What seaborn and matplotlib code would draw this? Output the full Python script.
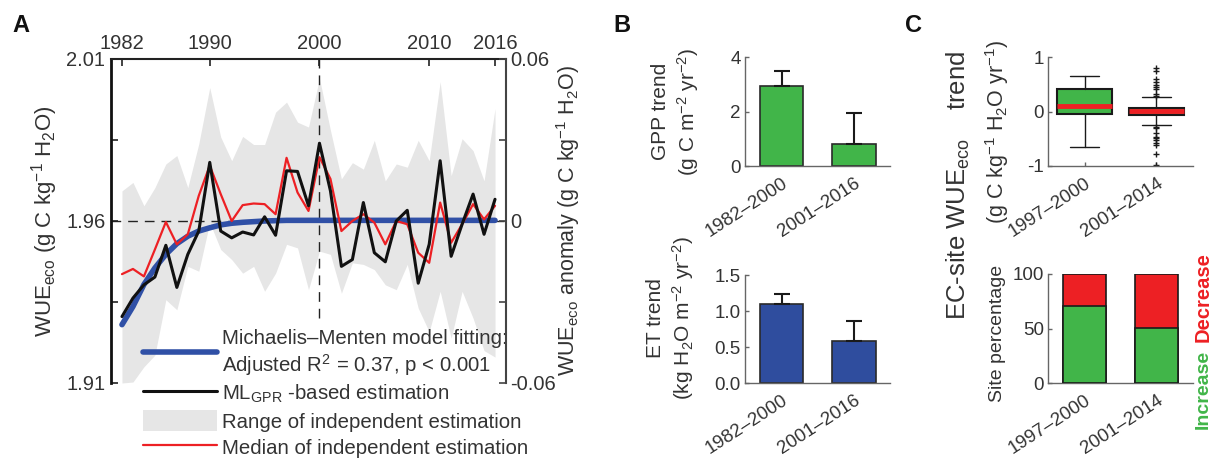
import numpy as np
import seaborn as sns
import matplotlib.pyplot as plt
from matplotlib.lines import Line2D
from matplotlib.patches import Patch

# ---- data ----
years = list(range(1982, 2017))

# ML_GPR-based estimation (black)
wue_ml = [1.9305, 1.9362, 1.9403, 1.9427, 1.9525, 1.9395, 1.9497, 1.9569, 1.9781, 1.9569,
          1.9548, 1.9566, 1.9557, 1.9613, 1.9556, 1.9755, 1.9753, 1.9647, 1.9840, 1.9693,
          1.9460, 1.9481, 1.9657, 1.9502, 1.9474, 1.9600, 1.9633, 1.9408, 1.9528, 1.9786,
          1.9491, 1.9590, 1.9683, 1.9559, 1.9667]
# median of independent estimation (red)
wue_median = [1.9436, 1.9452, 1.9429, 1.9512, 1.9597, 1.9528, 1.9559, 1.9678, 1.9771, 1.9683,
              1.9600, 1.9649, 1.9654, 1.9652, 1.9621, 1.9795, 1.9688, 1.9631, 1.9797, 1.9730,
              1.9569, 1.9600, 1.9621, 1.9595, 1.9528, 1.9600, 1.9590, 1.9502, 1.9471, 1.9657,
              1.9533, 1.9590, 1.9652, 1.9605, 1.9647]
# range of independent estimation (grey band)
wue_upper = [1.9693, 1.9719, 1.9647, 1.9703, 1.9776, 1.9802, 1.9703, 1.9838, 2.0012, 1.9859,
             1.9786, 1.9861, 1.9836, 1.9836, 1.9936, 1.9967, 1.9905, 1.9890, 2.0040, 1.9880,
             1.9730, 1.9780, 1.9760, 1.9849, 1.9724, 1.9776, 1.9766, 1.9849, 1.9786, 2.0030,
             1.9740, 1.9854, 1.9817, 1.9724, 1.9947]
wue_lower = [1.9100, 1.9103, 1.9150, 1.9186, 1.9357, 1.9326, 1.9460, 1.9445, 1.9595, 1.9512,
             1.9481, 1.9439, 1.9460, 1.9383, 1.9439, 1.9528, 1.9517, 1.9388, 1.9507, 1.9497,
             1.9377, 1.9471, 1.9466, 1.9450, 1.9403, 1.9388, 1.9466, 1.9331, 1.9258, 1.9383,
             1.9238, 1.9383, 1.9300, 1.9200, 1.9180]
# Michaelis-Menten fit (blue)
wue_fit = [1.9280, 1.9336, 1.9404, 1.9455, 1.9497, 1.9530, 1.9553, 1.9569, 1.9579, 1.9588,
           1.9593, 1.9596, 1.9598, 1.9600, 1.9601, 1.9602, 1.9602, 1.9602, 1.9602, 1.9602,
           1.9602, 1.9602, 1.9602, 1.9602, 1.9602, 1.9602, 1.9602, 1.9602, 1.9602, 1.9602,
           1.9602, 1.9602, 1.9602, 1.9602, 1.9602]

periods_b = ["1982\u20132000", "2001\u20132016"]
gpp_trend = [2.95, 0.81]
gpp_err = [0.55, 1.14]
et_trend = [1.095, 0.585]
et_err = [0.145, 0.275]

periods_c = ["1997\u20132000", "2001\u20132014"]
box_med = [0.11, 0.005]
box_q1 = [-0.045, -0.065]
box_q3 = [0.42, 0.07]
box_whislo = [-0.65, -0.25]
box_whishi = [0.65, 0.26]
box_fliers = [[],
              [0.80, 0.74, 0.59, 0.54, 0.49, 0.45, 0.41, 0.32, 0.28,
               -0.28, -0.31, -0.40, -0.46, -0.49, -0.52, -0.57, -0.62, -0.78, -0.99]]
pct_increase = [70.6, 50.7]
pct_decrease = [29.4, 49.3]

# ---- style ----
sns.set_theme(style="ticks")
plt.rcParams['font.family'] = ['Liberation Sans', 'DejaVu Sans']
plt.rcParams['mathtext.fontset'] = 'custom'
plt.rcParams['mathtext.rm'] = 'Liberation Sans'
plt.rcParams['mathtext.it'] = 'Liberation Sans:italic'
plt.rcParams['mathtext.bf'] = 'Liberation Sans:bold'
txt = '#333333'
plt.rcParams['text.color'] = txt
plt.rcParams['axes.labelcolor'] = txt
plt.rcParams['xtick.color'] = txt
plt.rcParams['ytick.color'] = txt

green = '#41b549'
red = '#ed2024'
blue = '#3050a6'
navy = '#2f4d9e'
grey_fill = '#e6e6e6'

W, H = 1211, 458
fig = plt.figure(figsize=(W / 100, H / 100), dpi=100)


def rect(l, t, r, b):
    return [l / W, 1 - b / H, (r - l) / W, (b - t) / H]


# ---- panel A ----
ax = fig.add_axes(rect(111, 59, 506, 383))
ax.fill_between(years, wue_lower, wue_upper, color=grey_fill, lw=0, zorder=1)
ax.axhline(1.96, color='#222222', lw=1, ls=(0, (7, 5)), zorder=2)
ax.plot([2000, 2000], [1.93, 2.01], color='#222222', lw=1, ls=(0, (7, 5)), zorder=2)
sns.lineplot(x=years, y=wue_fit, ax=ax, color=blue, lw=4, legend=False, zorder=3)
sns.lineplot(x=years, y=wue_median, ax=ax, color=red, lw=1.6, legend=False, zorder=4)
sns.lineplot(x=years, y=wue_ml, ax=ax, color='#111111', lw=2.2, legend=False, zorder=5)
ax.set_xlim(1981, 2017)
ax.set_ylim(1.91, 2.01)
ax.xaxis.tick_top()
ax.set_xticks([1982, 1990, 2000, 2010, 2016])
ax.set_yticks([1.91, 1.935, 1.96, 1.985, 2.01])
ax.set_yticklabels(['1.91', '', '1.96', '', '2.01'])
ax.tick_params(direction='in', length=5, width=1.2, labelsize=14.5, pad=4, colors='#222222',
               labelcolor=txt)
ax.spines['bottom'].set_visible(False)
ax.spines['right'].set_visible(False)
ax.spines['left'].set_color('#111111')
ax.spines['left'].set_linewidth(2)
ax.spines['top'].set_color('#222222')
ax.spines['top'].set_linewidth(1.5)
ax.set_xlabel('')
ax.set_ylabel('WUE$_{\\rm eco}$ (g C kg$^{-1}$ H$_2$O)', fontsize=16)
ax.yaxis.set_label_coords(-0.128, 0.5)

ax2 = ax.twinx()
ax2.set_ylim(-0.06, 0.06)
ax2.set_yticks([-0.06, -0.03, 0, 0.03, 0.06])
ax2.set_yticklabels(['-0.06', '', '0', '', '0.06'])
ax2.tick_params(direction='in', length=5, width=1.2, labelsize=14.5, pad=3, colors='#444444',
                labelcolor=txt)
for s in ['top', 'bottom', 'left']:
    ax2.spines[s].set_visible(False)
ax2.spines['right'].set_color('#444444')
ax2.spines['right'].set_linewidth(1.5)
ax2.set_ylabel('WUE$_{\\rm eco}$ anomaly (g C kg$^{-1}$ H$_2$O)', fontsize=15.5, rotation=90)
ax2.yaxis.set_label_coords(1.122, 0.5)

handles = [Line2D([], [], color=blue, lw=4),
           Line2D([], [], color='#111111', lw=2.2),
           Patch(facecolor=grey_fill, edgecolor='none'),
           Line2D([], [], color=red, lw=1.6)]
labels = ['Michaelis\u2013Menten model fitting:\nAdjusted R$^2$ = 0.37, p < 0.001',
          'ML$_{\\rm GPR}$ -based estimation',
          'Range of independent estimation',
          'Median of independent estimation']
leg = ax.legend(handles, labels, loc='upper left', bbox_to_anchor=(143 / W, 1 - 329 / H),
                bbox_transform=fig.transFigure, frameon=False, fontsize=14.7,
                handlelength=3.6, handleheight=1.2, handletextpad=0.25, labelspacing=0.24,
                borderpad=0, borderaxespad=0)
for t in leg.get_texts():
    t.set_color(txt)
    t.set_linespacing(1.2)
leg.set_zorder(10)


def style_small(a):
    a.spines['top'].set_visible(False)
    a.spines['right'].set_visible(False)
    for s in ['left', 'bottom']:
        a.spines[s].set_color('#666666')
        a.spines[s].set_linewidth(1)
    a.tick_params(direction='in', length=3, width=1, labelsize=13.5, colors='#666666',
                  labelcolor=txt, pad=3)
    a.tick_params(axis='x', pad=6)
    for lab in a.get_xticklabels():
        lab.set_rotation(33)
        lab.set_ha('right')
        lab.set_rotation_mode('anchor')
    a.set_xlabel('')


# ---- panel B ----
axg = fig.add_axes(rect(745, 57, 890, 166))
sns.barplot(x=periods_b, y=gpp_trend, ax=axg, color=green, saturation=1, width=0.6,
            edgecolor='#2a2a2a', linewidth=1.2, errorbar=None, zorder=2)
axg.errorbar([0, 1], gpp_trend, yerr=[[0, 0], gpp_err], fmt='none', ecolor='#1a1a1a',
             elinewidth=1.5, capsize=6, capthick=1.5, zorder=3)
axg.set_xlim(-0.51, 1.5)
axg.set_ylim(0, 4)
axg.set_yticks([0, 2, 4])
style_small(axg)
axg.set_ylabel('GPP trend\n(g C m$^{-2}$ yr$^{-2}$)', fontsize=15, linespacing=1.25)
axg.yaxis.set_label_coords(-0.305, 0.5)

axe = fig.add_axes(rect(745, 275, 890, 383))
sns.barplot(x=periods_b, y=et_trend, ax=axe, color=navy, saturation=1, width=0.6,
            edgecolor='#2a2a2a', linewidth=1.2, errorbar=None, zorder=2)
axe.errorbar([0, 1], et_trend, yerr=[[0, 0], et_err], fmt='none', ecolor='#1a1a1a',
             elinewidth=1.5, capsize=6, capthick=1.5, zorder=3)
axe.set_xlim(-0.51, 1.5)
axe.set_ylim(0, 1.5)
axe.set_yticks([0, 0.5, 1.0, 1.5])
axe.set_yticklabels(['0.0', '0.5', '1.0', '1.5'])
style_small(axe)
axe.set_ylabel('ET trend\n(kg H$_2$O m$^{-2}$ yr$^{-2}$)', fontsize=15, linespacing=1.25)
axe.yaxis.set_label_coords(-0.34, 0.6)

# ---- panel C ----
axb = fig.add_axes(rect(1048, 57, 1193, 166))
stats = []
for i in range(2):
    stats.append(dict(med=box_med[i], q1=box_q1[i], q3=box_q3[i], whislo=box_whislo[i],
                      whishi=box_whishi[i], fliers=box_fliers[i], label=periods_c[i]))
axb.bxp(stats, positions=[0, 1], widths=0.76, capwidths=0.4, patch_artist=True,
        boxprops=dict(facecolor=green, edgecolor='#1a1a1a', linewidth=1.5),
        medianprops=dict(color=red, linewidth=3.5),
        whiskerprops=dict(color='#1a1a1a', linewidth=1),
        capprops=dict(color='#1a1a1a', linewidth=1),
        flierprops=dict(marker='+', markeredgecolor='#1a1a1a', markersize=5,
                        markeredgewidth=1, linestyle='none'))
axb.set_xlim(-0.507, 1.507)
axb.set_ylim(-1, 1)
axb.set_yticks([-1, 0, 1])
axb.set_yticklabels(['-1', '0', '1'])
style_small(axb)

axs = fig.add_axes(rect(1048, 274, 1193, 383))
pct_total = [a + b for a, b in zip(pct_increase, pct_decrease)]
sns.barplot(x=periods_c, y=pct_total, ax=axs, color=red, saturation=1, width=0.6,
            edgecolor='#1a1a1a', linewidth=1.2, errorbar=None, zorder=2)
sns.barplot(x=periods_c, y=pct_increase, ax=axs, color=green, saturation=1, width=0.6,
            edgecolor='#1a1a1a', linewidth=1.2, errorbar=None, zorder=3)
axs.set_xlim(-0.507, 1.507)
axs.set_ylim(0, 100)
axs.set_yticks([0, 50, 100])
style_small(axs)
axs.set_ylabel('')

fig.text(958 / W, 1 - 185 / H, 'EC-site WUE$_{\\rm eco}$    trend', rotation=90,
         ha='center', va='center', fontsize=18.5)
fig.text(997 / W, 1 - 132 / H, '(g C kg$^{-1}$ H$_2$O yr$^{-1}$)', rotation=90,
         ha='center', va='center', fontsize=15.5)
fig.text(997 / W, 1 - 333 / H, 'Site percentage', rotation=90,
         ha='center', va='center', fontsize=14)
fig.text(1203 / W, 1 - 389 / H, 'Increase', rotation=90, ha='center', va='center',
         fontsize=14, fontweight='bold', color=green)
fig.text(1203 / W, 1 - 297 / H, 'Decrease', rotation=90, ha='center', va='center',
         fontsize=14.5, fontweight='bold', color=red)

# panel letters
for x, lab in [(12, 'A'), (613, 'B'), (905, 'C')]:
    fig.text(x / W, 1 - 32 / H, lab, fontsize=17, fontweight='bold', color='#111111',
             family=['Liberation Sans Narrow', 'Liberation Sans'], ha='left', va='baseline')

fig.savefig('out.png', dpi=100)
